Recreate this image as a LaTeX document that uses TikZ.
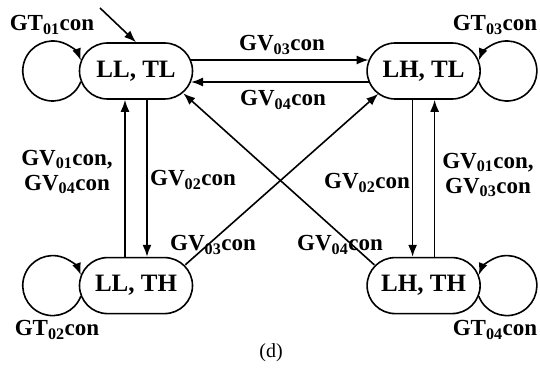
\documentclass[tikz,border=0pt]{standalone}
\usepackage{fontspec}
\setmainfont{Liberation Serif}
\usetikzlibrary{positioning, arrows.meta}

\begin{document}
\begin{tikzpicture}[x=1pt, y=1pt, node distance=157pt and 173pt]
        % Styles
        \tikzstyle{stateblock} = [rectangle, draw, line width=1.6pt, rounded corners=28pt,
            minimum width=113pt, minimum height=56pt, inner sep=0pt,
            font=\bfseries\fontsize{25}{27}\selectfont]
        \tikzstyle{condlabel} = [inner sep=0pt, align=center,
            font=\bfseries\fontsize{23}{25}\selectfont]
        \tikzstyle{line} = [draw, line width=1.6pt, -{Latex[length=12pt, width=9pt]}]

        \useasboundingbox (0,0) rectangle (540,-374);

        % Nodes
        \node [stateblock] (lltl) at (136,-71) {LL, TL};
        \node [stateblock, right=of lltl] (lhtl) {LH, TL};
        \node [stateblock, below=of lltl] (llth) {LL, TH};
        \node [stateblock, below=of lhtl] (lhth) {LH, TH};
        \coordinate (start) at (100,-8);

        % Labels
        \node [condlabel] (gt01) at (52,-25) {GT\textsubscript{01}con};
        \node [condlabel] (gt03) at (495,-25) {GT\textsubscript{03}con};
        \node [condlabel] (gt02) at (57,-330) {GT\textsubscript{02}con};
        \node [condlabel] (gt04) at (495,-330) {GT\textsubscript{04}con};
        \node [condlabel] (gv03top) at (282,-45) {GV\textsubscript{03}con};
        \node [condlabel] (gv04top) at (283,-100) {GV\textsubscript{04}con};
        \node [condlabel] (gvleft) at (67,-172) {GV\textsubscript{01}con,\\GV\textsubscript{04}con};
        \node [condlabel] (gv02left) at (193,-180) {GV\textsubscript{02}con};
        \node [condlabel] (gv02right) at (367,-183) {GV\textsubscript{02}con};
        \node [condlabel] (gvright) at (488,-175) {GV\textsubscript{01}con,\\GV\textsubscript{03}con};
        \node [condlabel] (gv03diag) at (213,-245) {GV\textsubscript{03}con};
        \node [condlabel] (gv04diag) at (340,-245) {GV\textsubscript{04}con};
        \node [font=\fontsize{20}{22}\selectfont] (caption) at (271,-353) {(d)};

        % Connections
        \path [line] (start) -- (lltl.north);
        \path [line] ([shift={(2.1pt,-10.6pt)}]lltl.west) arc[start angle=-20.7, end angle=-339.3, radius=30pt];
        \path [line] ([shift={(2.1pt,-10.6pt)}]llth.west) arc[start angle=-20.7, end angle=-339.3, radius=30pt];
        \path [line] ([shift={(-2.1pt,-10.6pt)}]lhtl.east) arc[start angle=200.7, end angle=519.3, radius=30pt];
        \path [line] ([shift={(-2.1pt,-10.6pt)}]lhth.east) arc[start angle=200.7, end angle=519.3, radius=30pt];
        \path [line] ([shift={(-2.3pt,11pt)}]lltl.east) -- ([shift={(2.3pt,11pt)}]lhtl.west);
        \path [line] ([shift={(2.3pt,-11pt)}]lhtl.west) -- ([shift={(-2.3pt,-11pt)}]lltl.east);
        \path [line] ([xshift=-11pt]llth.north) -- ([xshift=-11pt]lltl.south);
        \path [line] ([xshift=11pt]lltl.south) -- ([xshift=11pt]llth.north);
        \path [line] ([xshift=-11pt]lhtl.south) -- ([xshift=-11pt]lhth.north);
        \path [line] ([xshift=11pt]lhth.north) -- ([xshift=11pt]lhtl.south);
        \path [line] ([shift={(-8pt,-8pt)}]llth.north east) -- ([shift={(12pt,6pt)}]lhtl.south west);
        \path [line] ([shift={(8pt,-8pt)}]lhth.north west) -- ([shift={(-10pt,6.5pt)}]lltl.south east);
    \end{tikzpicture}
\end{document}
